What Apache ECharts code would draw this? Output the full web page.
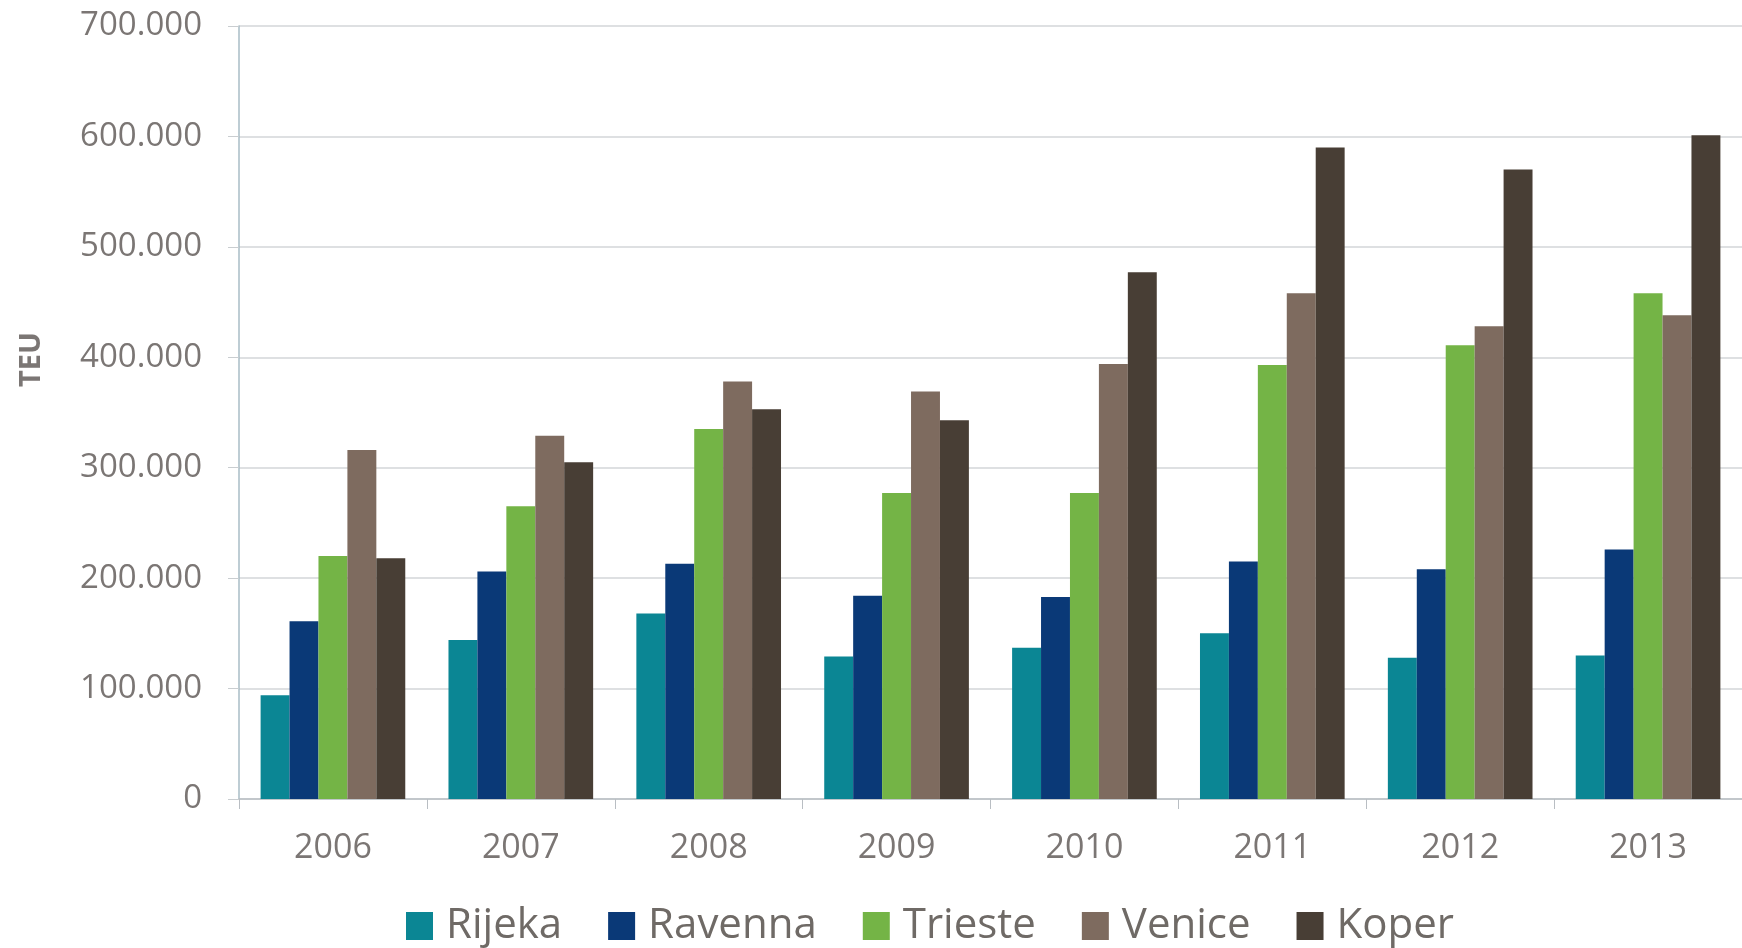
<!DOCTYPE html>
<html>
<head>
<meta charset="utf-8">
<script src="https://cdn.jsdelivr.net/npm/echarts@6/dist/echarts.min.js"></script>
<style>
html,body{margin:0;padding:0;background:#fff;}
#chart{width:1742px;height:948px;}
</style>
</head>
<body>
<div id="chart"></div>
<script>
var categories = ['2006','2007','2008','2009','2010','2011','2012','2013'];
var seriesNames = ['Rijeka','Ravenna','Trieste','Venice','Koper'];
var rijeka  = [94000, 144000, 168000, 129000, 137000, 150000, 128000, 130000];
var ravenna = [161000, 206000, 213000, 184000, 183000, 215000, 208000, 226000];
var trieste = [220000, 265000, 335000, 277000, 277000, 393000, 411000, 458000];
var venice  = [316000, 329000, 378000, 369000, 394000, 458000, 428000, 438000];
var koper   = [218000, 305000, 353000, 343000, 477000, 590000, 570000, 601000];
var colors = ['#0b8694', '#0a3977', '#74b446', '#7e6b5f', '#483e35'];
var axisTitle = 'TEU';

var chart = echarts.init(document.getElementById('chart'));
var allData = [rijeka, ravenna, trieste, venice, koper];
function fmt(v){
  if (v === 0) return '0';
  return String(v).replace(/\B(?=(\d{3})+(?!\d))/g, '.');
}
var series = seriesNames.map(function(n, i){
  return {
    name: n, type: 'bar', data: allData[i],
    barGap: '0%', barCategoryGap: '23%',
    itemStyle: {color: colors[i]},
    emphasis: {disabled: true}
  };
});
chart.setOption({
  animation: false,
  textStyle: {fontFamily: 'Open Sans'},
  color: colors,
  grid: {left: 239, right: -8, top: 26, bottom: 149, containLabel: false},
  legend: {
    left: 401, top: 900, itemWidth: 27, itemHeight: 28, itemGap: 46,
    icon: 'rect',
    textStyle: {fontSize: 42, color: '#6f6a66', fontFamily: 'Open Sans', padding: [0,0,0,8]},
    data: seriesNames
  },
  xAxis: {
    type: 'category', data: categories,
    axisLine: {lineStyle: {color: '#b9bec3', width: 1.5}},
    axisTick: {show: true, length: 10, lineStyle: {color: '#b9bec3'}},
    axisLabel: {fontSize: 34, color: '#7b7674', margin: 32}
  },
  yAxis: {
    type: 'value', min: 0, max: 700000, interval: 100000,
    axisLine: {show: true, lineStyle: {color: '#a9bcc6', width: 1.5}},
    axisTick: {show: true, length: 11, lineStyle: {color: '#c9cdd0'}},
    splitLine: {lineStyle: {color: '#d3d6d8', width: 1.5}},
    axisLabel: {fontSize: 33, color: '#7b7674', margin: 37, formatter: fmt}
  },
  graphic: [{
    type: 'text', left: 17, top: 332, rotation: Math.PI/2,
    style: {text: axisTitle, font: 'bold 29px "Open Sans"', fill: '#7b7674'}
  }],
  series: series
});
</script>
</body>
</html>
